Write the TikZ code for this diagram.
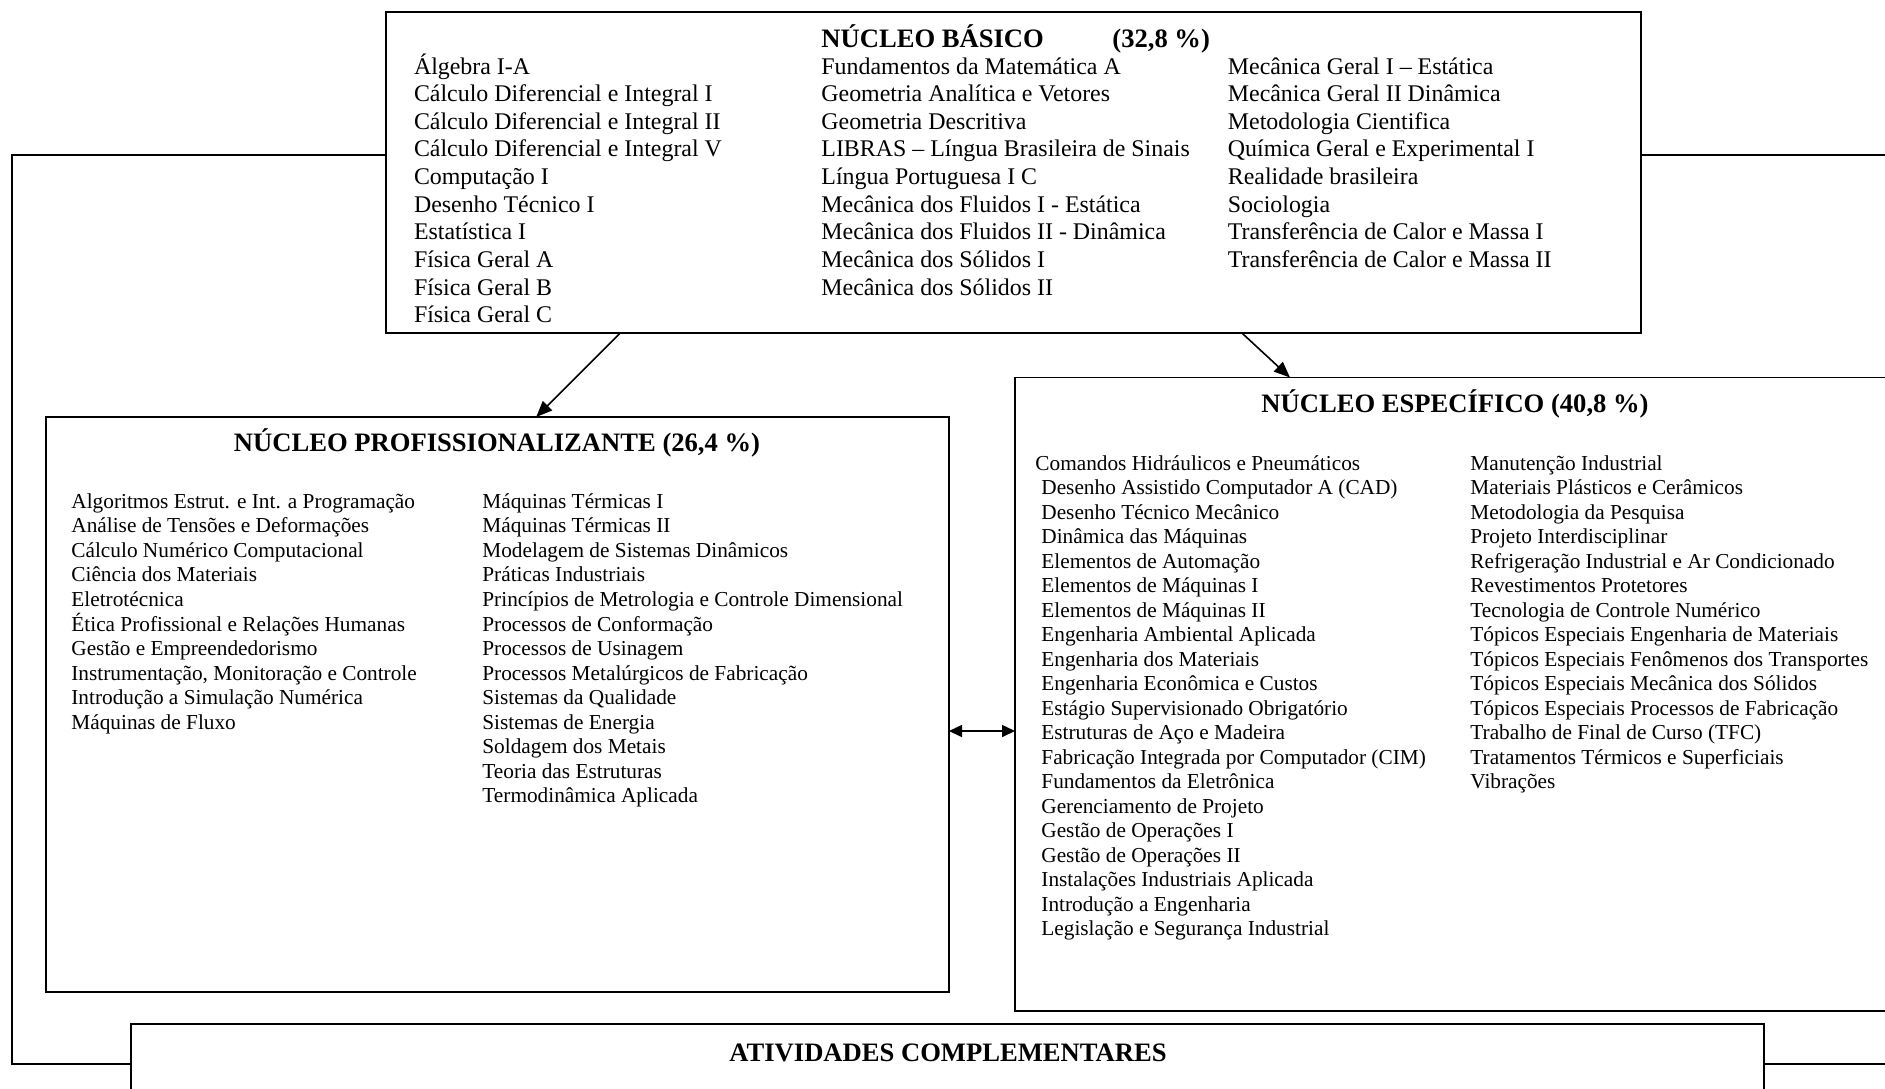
\documentclass[tikz,border=0pt]{standalone}
\usepackage{fontspec}
\setmainfont{Liberation Serif}
\usetikzlibrary{arrows.meta,fit,calc}
\begin{document}
\begin{tikzpicture}[x=0.5pt,y=-0.5pt,
  boxframe/.style={draw,line width=0.9pt,inner sep=0pt,outer sep=0pt,rectangle},
  conn/.style={line width=0.8pt},
  arr/.style={conn,-{Triangle[length=8pt,width=6.5pt]}},
  darr/.style={conn,{Triangle[length=6.5pt,width=6pt]}-{Triangle[length=6.5pt,width=6pt]}},
  itemA/.style={anchor=base west,inner sep=0pt,font=\fontsize{11.95}{13.8}\selectfont},
  itemB/.style={anchor=base west,inner sep=0pt,font=\fontsize{10.65}{12.3}\selectfont},
  ttl/.style={inner sep=0pt,font=\fontsize{13.3}{15}\selectfont\bfseries},
]
\useasboundingbox (0,0) rectangle (1885,1088);
\clip (0,0) rectangle (1885,1088);
\fill[white] (0,0) rectangle (1885,1088);

% boxes
\node[boxframe,fit={(386,12) (1641,333)}] (basico) {};
\node[boxframe,fit={(46,417) (949,992)}] (prof) {};
\node[boxframe,fit={(1015,377.5) (1900,1011)}] (espec) {};
\node[boxframe,fit={(131,1024) (1764,1104)}] (compl) {};

% titles
\node[ttl,anchor=base west] (tb1) at (821,47.5) {NÚCLEO BÁSICO};
\node[ttl,anchor=base west] (tb2) at (1112,47.5) {(32,8 \%)};
\node[ttl,anchor=base] (tp) at (497,451) {NÚCLEO PROFISSIONALIZANTE (26,4 \%)};
\node[ttl,anchor=base] (te) at (1455,412.5) {NÚCLEO ESPECÍFICO (40,8 \%)};
\node[ttl,anchor=base] (tc) at (948,1061) {ATIVIDADES COMPLEMENTARES};

% NÚCLEO BÁSICO columns
\foreach \t [count=\i] in {Álgebra I-A, Cálculo Diferencial e Integral I,
  Cálculo Diferencial e Integral II, Cálculo Diferencial e Integral V,
  Computação I, Desenho Técnico I, Estatística I, Física Geral A,
  Física Geral B, Física Geral C}
  \node[itemA] (ba-\i) at (413.6,{74+27.65*(\i-1)}) {\t};
\foreach \t [count=\i] in {Fundamentos da Matemática A, Geometria Analítica e Vetores,
  Geometria Descritiva, LIBRAS – Língua Brasileira de Sinais, Língua Portuguesa I C,
  Mecânica dos Fluidos I - Estática, Mecânica dos Fluidos II - Dinâmica,
  Mecânica dos Sólidos I, Mecânica dos Sólidos II}
  \node[itemA] (bb-\i) at (821,{74+27.65*(\i-1)}) {\t};
\foreach \t [count=\i] in {Mecânica Geral I – Estática, Mecânica Geral II Dinâmica,
  Metodologia Cientifica, Química Geral e Experimental I, Realidade brasileira,
  Sociologia, Transferência de Calor e Massa I, Transferência de Calor e Massa II}
  \node[itemA] (bc-\i) at (1227.5,{74+27.65*(\i-1)}) {\t};

% NÚCLEO PROFISSIONALIZANTE columns
\foreach \t [count=\i] in {Algoritmos Estrut. e Int. a Programação,
  Análise de Tensões e Deformações, Cálculo Numérico Computacional,
  Ciência dos Materiais, Eletrotécnica, Ética Profissional e Relações Humanas,
  Gestão e Empreendedorismo, {Instrumentação, Monitoração e Controle},
  Introdução a Simulação Numérica, Máquinas de Fluxo}
  \node[itemB] (pa-\i) at (71,{508.3+24.55*(\i-1)}) {\t};
\foreach \t [count=\i] in {Máquinas Térmicas I, Máquinas Térmicas II,
  Modelagem de Sistemas Dinâmicos, Práticas Industriais,
  Princípios de Metrologia e Controle Dimensional, Processos de Conformação,
  Processos de Usinagem, Processos Metalúrgicos de Fabricação,
  Sistemas da Qualidade, Sistemas de Energia, Soldagem dos Metais,
  Teoria das Estruturas, Termodinâmica Aplicada}
  \node[itemB] (pb-\i) at (482,{508.3+24.55*(\i-1)}) {\t};

% NÚCLEO ESPECÍFICO columns
\node[itemB] (ea-1) at (1035,470) {Comandos Hidráulicos e Pneumáticos};
\foreach \t [count=\i from 2] in {Desenho Assistido Computador A (CAD),
  Desenho Técnico Mecânico, Dinâmica das Máquinas, Elementos de Automação,
  Elementos de Máquinas I, Elementos de Máquinas II, Engenharia Ambiental Aplicada,
  Engenharia dos Materiais, Engenharia Econômica e Custos,
  Estágio Supervisionado Obrigatório, Estruturas de Aço e Madeira,
  Fabricação Integrada por Computador (CIM), Fundamentos da Eletrônica,
  Gerenciamento de Projeto, Gestão de Operações I, Gestão de Operações II,
  Instalações Industriais Aplicada, Introdução a Engenharia,
  Legislação e Segurança Industrial}
  \node[itemB] (ea-\i) at (1041,{470+24.5*(\i-1)}) {\t};
\foreach \t [count=\i] in {Manutenção Industrial, Materiais Plásticos e Cerâmicos,
  Metodologia da Pesquisa, Projeto Interdisciplinar,
  Refrigeração Industrial e Ar Condicionado, Revestimentos Protetores,
  Tecnologia de Controle Numérico, Tópicos Especiais Engenharia de Materiais,
  Tópicos Especiais Fenômenos dos Transportes, Tópicos Especiais Mecânica dos Sólidos,
  Tópicos Especiais Processos de Fabricação, Trabalho de Final de Curso (TFC),
  Tratamentos Térmicos e Superficiais, Vibrações}
  \node[itemB] (eb-\i) at (1470,{470+24.5*(\i-1)}) {\t};

% connectors
\coordinate (lcorner) at (12,155);
\coordinate (rtop) at (1890,155);
\coordinate (rbot) at (1890,1064);
\draw[conn] ($(basico.north west)+(0,143)$) -- (lcorner) |- (compl.west);
\draw[conn] ($(basico.north east)+(0,143)$) -- (rtop);
\draw[conn] (compl.east) -- (rbot);
\draw[arr] ($(basico.south west)+(234.3,0)$) -- ($(prof.north west)+(490.2,0)$);
\draw[arr] ($(basico.south west)+(855.9,0)$) -- ($(espec.north west)+(275,0)$);
\draw[darr] ($(prof.north east)+(0,314)$) -- ($(espec.north west)+(0,353.5)$);
\end{tikzpicture}
\end{document}
